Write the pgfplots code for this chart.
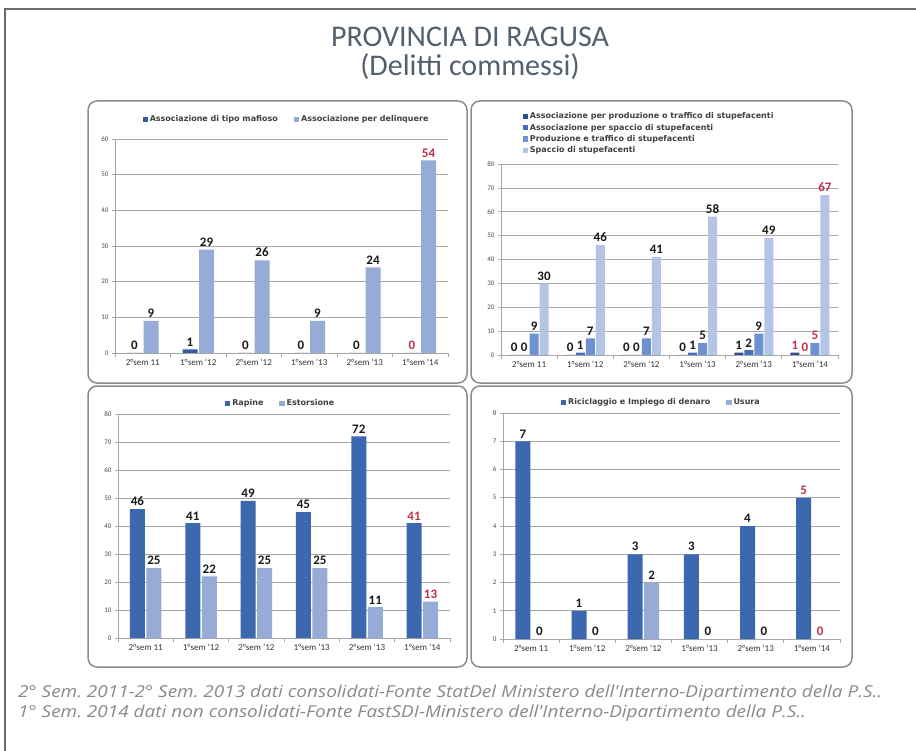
\documentclass[border=0pt]{standalone}
\usepackage{fontspec}
\setmainfont{Carlito}
\newfontfamily\legfont{DejaVu Sans}
\newfontfamily\footfont{Open Sans}
\usepackage{graphicx}
\usepackage{pgfplots}
\pgfplotsset{compat=1.18}
\frenchspacing

\definecolor{cdk}{HTML}{3C68B0}
\definecolor{clt}{HTML}{97ABD7}
\definecolor{cmaf}{HTML}{3A5A99}
\definecolor{sa}{HTML}{2E4F8C}
\definecolor{sb}{HTML}{4470B6}
\definecolor{sc}{HTML}{6E92CF}
\definecolor{sd}{HTML}{B4C4E7}
\definecolor{lred}{HTML}{C0304A}
\definecolor{titlec}{HTML}{53606E}
\definecolor{footc}{HTML}{8A8A8A}
\definecolor{panelc}{HTML}{8C8C8C}
\definecolor{framec}{HTML}{6A6A6A}
\definecolor{axc}{HTML}{A6A6A6}

\pgfplotsset{
  sq/.style={legend image code/.code={\fill[##1,draw=none] (0pt,-2.6pt) rectangle (5.2pt,2.6pt);}},
  panel/.style={
    scale only axis, anchor=south west,
    ybar=1.5pt, bar width=15pt,
    xmin=-0.5, xmax=5.5, ymin=0,
    xtick={0,...,5},
    xticklabels={2°sem 11, 1°sem '12, 2°sem '12, 1°sem '13, 2°sem '13, 1°sem '14},
    axis x line*=bottom, axis y line*=left,
    axis line style={draw=axc, line width=0.7pt},
    ymajorgrids, grid style={draw=axc, line width=0.7pt},
    major x tick style={draw=none},
    extra x ticks={-0.5,0.5,...,5.5}, extra x tick labels={},
    extra x tick style={grid=none, major tick length=4pt, tick align=outside,
      major x tick style={draw=axc, line width=0.7pt}},
    ytick style={draw=axc, line width=0.7pt},
    major tick length=3pt, tick align=outside,
    /pgf/number format/assume math mode=true,
    xticklabel style={font=\fontsize{9}{10}\selectfont, text=black!80},
    yticklabel style={font=\fontsize{7}{8}\selectfont, text=black!70},
    visualization depends on={rawx \as \rx},
    nodes near coords={\ifdim\rx pt>4.5pt\color{lred}\fi\pgfmathprintnumber{\pgfplotspointmeta}},
    every node near coord/.append style={font=\bfseries\fontsize{13}{13}\selectfont, text=black!90, inner sep=1pt, yshift=2pt},
    legend style={draw=none, fill=none, font=\legfont\bfseries\fontsize{8}{9}\selectfont, text=black!75,
      nodes={inner ysep=1.8pt},
      /tikz/every even column/.append style={column sep=14pt}},
    legend cell align=left,
  }
}

\begin{document}
\begin{tikzpicture}[x=1pt,y=1pt]
\useasboundingbox (0,0) rectangle (916,-751);
\fill[white] (0,0) rectangle (916,-751);
\draw[line width=2pt, draw=framec] (5,-770) -- (5,-9) -- (930,-9);

\node[font=\fontsize{30}{30}\selectfont, text=titlec] at (470,-37) {PROVINCIA DI RAGUSA};
\node[font=\fontsize{30}{30}\selectfont, text=titlec] at (470,-67) {(Delitti commessi)};

\draw[line width=1.5pt, draw=panelc, rounded corners=9pt] (88,-101) rectangle (467,-383);
\draw[line width=1.5pt, draw=panelc, rounded corners=9pt] (471,-101) rectangle (852,-383);
\draw[line width=1.5pt, draw=panelc, rounded corners=9pt] (88,-386) rectangle (467,-667);
\draw[line width=1.5pt, draw=panelc, rounded corners=9pt] (471,-386) rectangle (852,-667);

% top left
\begin{axis}[panel, at={(115pt,-353pt)}, width=333pt, height=214pt,
  ymax=60, ytick={0,10,...,60},
  legend style={at={(0.515,1)}, anchor=south, yshift=12pt}, legend columns=2]
\addplot[fill=cmaf, draw=none, sq] coordinates {(0,0) (1,1) (2,0) (3,0) (4,0) (5,0)};
\addplot[fill=clt, draw=none, sq] coordinates {(0,9) (1,29) (2,26) (3,9) (4,24) (5,54)};
\legend{Associazione di tipo mafioso, Associazione per delinquere}
\end{axis}

% top right
\begin{axis}[panel, at={(501pt,-355pt)}, width=337pt, height=191pt,
  ymax=80, ytick={0,10,...,80}, bar width=9pt, ybar=1pt,
  legend style={at={(0.055,1)}, anchor=south west, yshift=6pt}, legend columns=1]
\addplot[fill=sa, draw=none, sq] coordinates {(0,0) (1,0) (2,0) (3,0) (4,1) (5,1)};
\addplot[fill=sb, draw=none, sq] coordinates {(0,0) (1,1) (2,0) (3,1) (4,2) (5,0)};
\addplot[fill=sc, draw=none, sq] coordinates {(0,9) (1,7) (2,7) (3,5) (4,9) (5,5)};
\addplot[fill=sd, draw=none, sq] coordinates {(0,30) (1,46) (2,41) (3,58) (4,49) (5,67)};
\legend{Associazione per produzione o traffico di stupefacenti, Associazione per spaccio di stupefacenti, Produzione e traffico di stupefacenti, Spaccio di stupefacenti}
\end{axis}

% bottom left
\begin{axis}[panel, at={(118pt,-638pt)}, width=332pt, height=224pt,
  ymax=80, ytick={0,10,...,80},
  legend style={at={(0.49,1)}, anchor=south, yshift=3pt}, legend columns=2]
\addplot[fill=cdk, draw=none, sq] coordinates {(0,46) (1,41) (2,49) (3,45) (4,72) (5,41)};
\addplot[fill=clt, draw=none, sq] coordinates {(0,25) (1,22) (2,25) (3,25) (4,11) (5,13)};
\legend{Rapine, Estorsione}
\end{axis}

% bottom right
\begin{axis}[panel, at={(503pt,-639pt)}, width=337pt, height=226pt,
  ymax=8, ytick={0,1,...,8},
  legend style={at={(0.47,1)}, anchor=south, yshift=3pt}, legend columns=2]
\addplot[fill=cdk, draw=none, sq] coordinates {(0,7) (1,1) (2,3) (3,3) (4,4) (5,5)};
\addplot[fill=clt, draw=none, sq] coordinates {(0,0) (1,0) (2,2) (3,0) (4,0) (5,0)};
\legend{Riciclaggio e Impiego di denaro, Usura}
\end{axis}

\node[anchor=west, font=\footfont\itshape\fontsize{16.5}{18}\selectfont, text=footc, inner sep=0pt] at (18,-693) {\scalebox{1.15}[1]{2° Sem. 2011-2° Sem. 2013 dati consolidati-Fonte StatDel Ministero dell'Interno-Dipartimento della P.S..}};
\node[anchor=west, font=\footfont\itshape\fontsize{16.5}{18}\selectfont, text=footc, inner sep=0pt] at (18,-713) {\scalebox{1.15}[1]{1° Sem. 2014 dati non consolidati-Fonte FastSDI-Ministero dell'Interno-Dipartimento della P.S..}};
\end{tikzpicture}
\end{document}
